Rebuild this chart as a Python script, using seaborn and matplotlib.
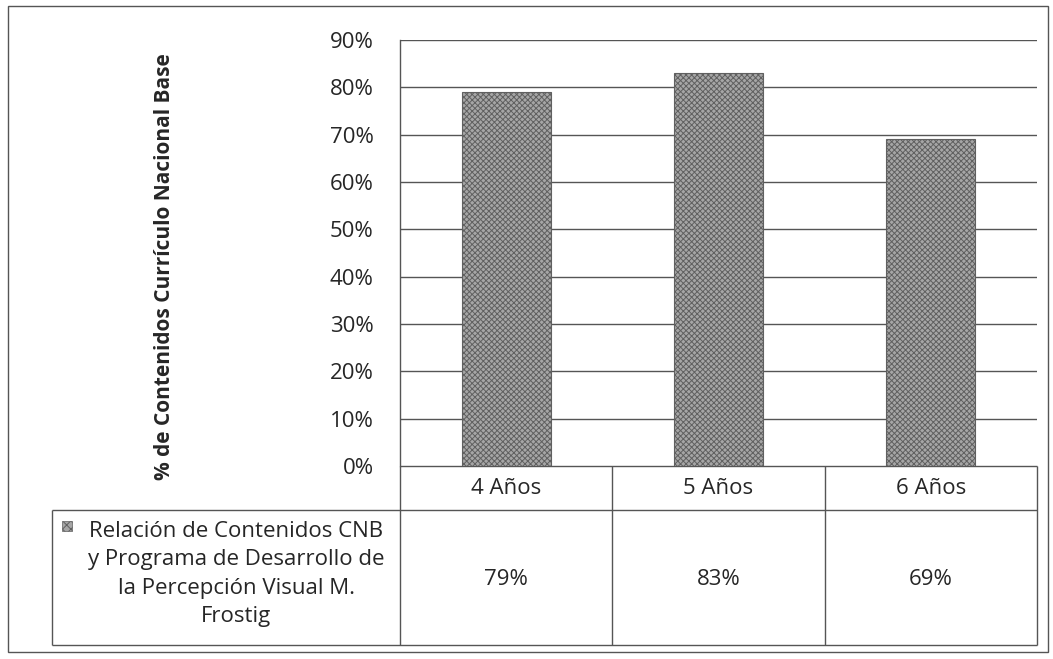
import numpy as np
import pandas as pd
import seaborn as sns
import matplotlib.pyplot as plt
from matplotlib.patches import Rectangle

# data
categories = ['4 Años', '5 Años', '6 Años']
values = [0.79, 0.83, 0.69]
yticks = [0.0, 0.1, 0.2, 0.3, 0.4, 0.5, 0.6, 0.7, 0.8, 0.9]
serie = 'Relación de Contenidos CNB\ny Programa de Desarrollo de\nla Percepción Visual M.\nFrostig'
ylabel = '% de Contenidos Currículo Nacional Base'

W, H = 1053, 659
LINE = '#555555'

sns.set_style('white')
plt.rcParams['font.family'] = ['Open Sans', 'DejaVu Sans']
plt.rcParams['hatch.linewidth'] = 0.7

fig = plt.figure(figsize=(W / 100, H / 100), dpi=100)

# background axes in pixel units, used for the data table and frame
bg = fig.add_axes([0, 0, 1, 1])
bg.set_xlim(0, W)
bg.set_ylim(H, 0)
bg.axis('off')

# plot area
top, base, left, right = 40, 466, 400, 1037
ax = fig.add_axes([left / W, (H - base) / H, (right - left) / W, (base - top) / H])
df = pd.DataFrame({'edad': categories, 'pct': values})
sns.barplot(data=df, x='edad', y='pct', ax=ax, color='#a6a6a6', width=0.42,
            edgecolor='#606060', linewidth=0.8, zorder=3)
for p in ax.patches:
    p.set_hatch('xxxxxx')

ax.set_xlim(-0.5, len(categories) - 0.5)
ax.set_ylim(0, 0.9)
ax.set_yticks(yticks)
ax.set_yticklabels([f'{round(t * 100)}%' for t in yticks], fontsize=16)
ax.tick_params(axis='y', length=0, pad=19)
ax.set_xticks([])
ax.set_xlabel('')
ax.set_ylabel('')
ax.yaxis.grid(True, color=LINE, linewidth=1)
ax.set_axisbelow(True)
for s in ['top', 'right', 'bottom']:
    ax.spines[s].set_visible(False)
ax.spines['left'].set_color(LINE)
ax.spines['left'].set_linewidth(1)

fig.text(165 / W, 1 - 267 / H, ylabel, rotation=90, ha='center', va='center',
         fontsize=15, fontweight='bold')

# data table below the plot
xs = [ax.transData.transform((e, 0))[0] for e in np.arange(len(categories) + 1) - 0.5]
y_head, y_mid, y_bot, x_leg = 466, 510, 645, 52
bg.hlines([y_head], xs[0], xs[-1], color=LINE, lw=1)
bg.hlines([y_mid, y_bot], x_leg, xs[-1], color=LINE, lw=1)
bg.vlines(xs, y_head, y_bot, color=LINE, lw=1)
bg.vlines([x_leg], y_mid, y_bot, color=LINE, lw=1)
for i, (c, v) in enumerate(zip(categories, values)):
    cx = (xs[i] + xs[i + 1]) / 2
    bg.text(cx, (y_head + y_mid) / 2 + 1, c, ha='center', va='center', fontsize=16)
    bg.text(cx, (y_mid + y_bot) / 2 + 2, f'{round(v * 100)}%', ha='center', va='center', fontsize=16)

bg.text(236, 574, serie, ha='center', va='center', fontsize=16, linespacing=1.45)
bg.add_patch(Rectangle((62, 521), 10, 10, facecolor='#a6a6a6', edgecolor='#606060',
                       hatch='xxxx', lw=0.5))

# outer chart frame
bg.add_patch(Rectangle((8, 6), 1040, 646, fill=False, edgecolor=LINE, lw=1))

fig.savefig('out.png', dpi=100)
